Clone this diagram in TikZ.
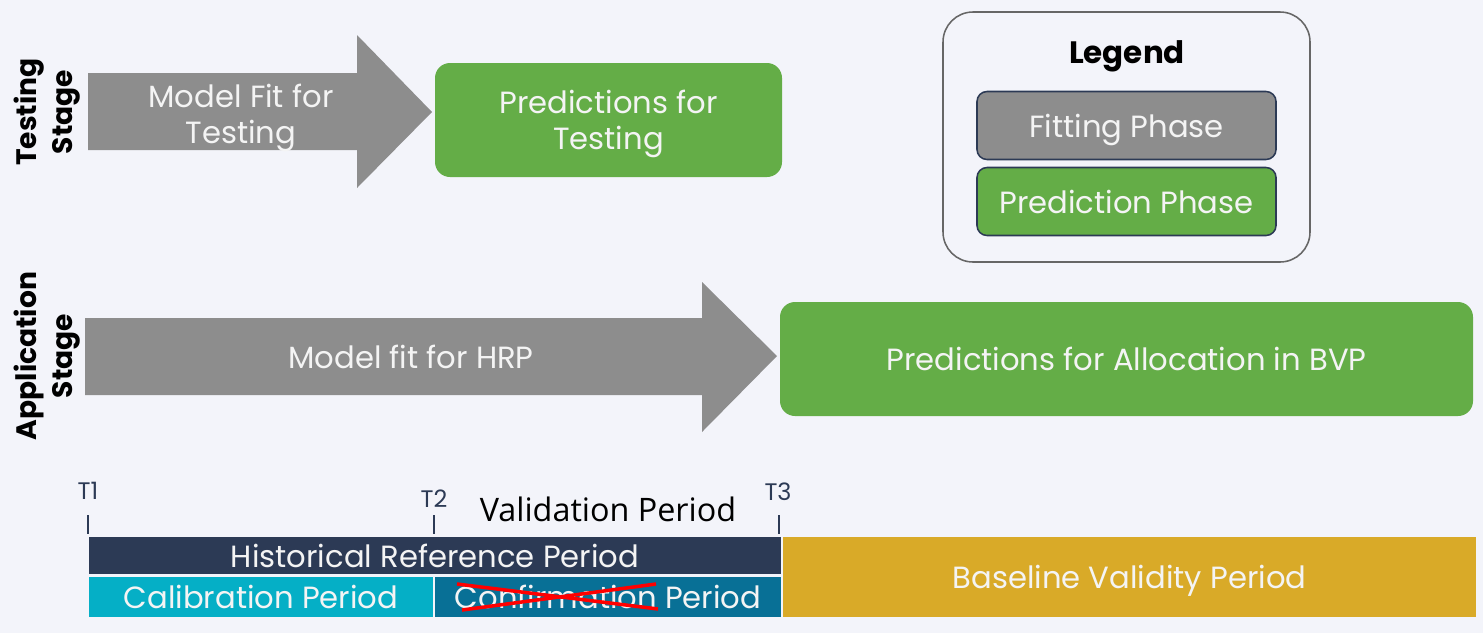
\documentclass[tikz,border=0pt]{standalone}
\usepackage{fontspec}
\setmainfont{Poppins}
\newfontfamily\valfont{Open Sans}
\definecolor{bgcol}{HTML}{F3F4FA}
\definecolor{fitgray}{HTML}{8D8D8D}
\definecolor{predgreen}{HTML}{64AD47}
\definecolor{navy}{HTML}{2C3A55}
\definecolor{calcyan}{HTML}{05AFC6}
\definecolor{confteal}{HTML}{087096}
\definecolor{basegold}{HTML}{D9AA28}
\definecolor{offwhite}{HTML}{F4F4F4}
\begin{document}
\begin{tikzpicture}[x=0.025cm,y=-0.025cm]
\tikzstyle{lbl}=[text=offwhite, font=\fontsize{21.8}{26}\selectfont, align=center, inner sep=0pt, text depth=0pt]
\tikzstyle{stage}=[rotate=90, align=center, font=\bfseries\fontsize{20}{26}\selectfont]
\tikzstyle{box}=[lbl, rounded corners=0.375cm]
\tikzstyle{keybox}=[lbl, draw=navy, line width=1.1pt, rounded corners=0.25cm,
    minimum width={299*0.025cm}, minimum height={68*0.025cm}]
\tikzstyle{bar}=[lbl, draw=bgcol, line width=1.2pt]
\tikzstyle{tick}=[draw=navy, line width=1.5pt]
\tikzstyle{tlabel}=[inner sep=0pt, text=navy, font=\fontsize{17}{20}\selectfont]

\path[use as bounding box, fill=bgcol] (0,0) rectangle (1483,633);

\node[stage] (teststage) at (47,112) {Testing\\Stage};
\node[stage] (appstage) at (47,356) {Application\\Stage};

\fill[fitgray] (88,73) -- (357,73) -- (357,35) -- (432,112)
    -- (357,188) -- (357,150) -- (88,150) -- cycle;
\node[lbl] (fittest) at (241,114) {Model Fit for\\Testing};
\node[box, fill=predgreen, minimum width={347*0.025cm}, minimum height={114*0.025cm}]
    (predtest) at (608.5,120) {Predictions for\\Testing};

\fill[fitgray] (85,318) -- (702,318) -- (702,282) -- (777,356)
    -- (702,432) -- (702,395) -- (85,395) -- cycle;
\node[lbl] (fithrp) at (411,357) {Model fit for HRP};
\node[box, fill=predgreen, minimum width={693*0.025cm}, minimum height={114*0.025cm}]
    (predbvp) at (1126.5,359) {Predictions for Allocation in BVP};

\node[draw=black!60, line width=1.1pt, rounded corners=0.75cm,
    minimum width={367*0.025cm}, minimum height={250*0.025cm}] (legend) at (1126.5,137) {};
\node[font=\bfseries\fontsize{22}{26}\selectfont, inner sep=0pt, text depth=0pt] (legendtitle) at (1127,52) {Legend};
\node[keybox, fill=fitgray] (keyfit) at (1126.5,125.5) {Fitting Phase};
\node[keybox, fill=predgreen] (keypred) at (1126.5,201.5) {Prediction Phase};

\draw[tick] (88,515) -- (88,534);
\draw[tick] (434,515) -- (434,534);
\draw[tick] (779,515) -- (779,534);
\node[tlabel] (t1) at (88,491) {T1};
\node[tlabel] (t2) at (434,499) {T2};
\node[tlabel] (t3) at (778,492) {T3};
\node[inner sep=0pt, font=\valfont\fontsize{23}{26}\selectfont] (valid) at (608,509) {Validation Period};

\node[bar, fill=navy, minimum width={694*0.025cm}, minimum height={39*0.025cm}]
    (hrp) at (435,555.5) {Historical Reference Period};
\node[bar, fill=calcyan, minimum width={346*0.025cm}, minimum height={41*0.025cm}]
    (calib) at (261,597) {Calibration Period};
\node[bar, fill=confteal, minimum width={348*0.025cm}, minimum height={41*0.025cm}]
    (confirm) at (608,597) {Confirmation Period};
\node[bar, fill=basegold, minimum width={695*0.025cm}, minimum height={82*0.025cm}]
    (bvp) at (1129.5,577) {Baseline Validity Period};

\draw[red, line width=2.5pt] (457,584) -- (658,609);
\draw[red, line width=2.5pt] (462,610) -- (656,584);
\end{tikzpicture}
\end{document}
